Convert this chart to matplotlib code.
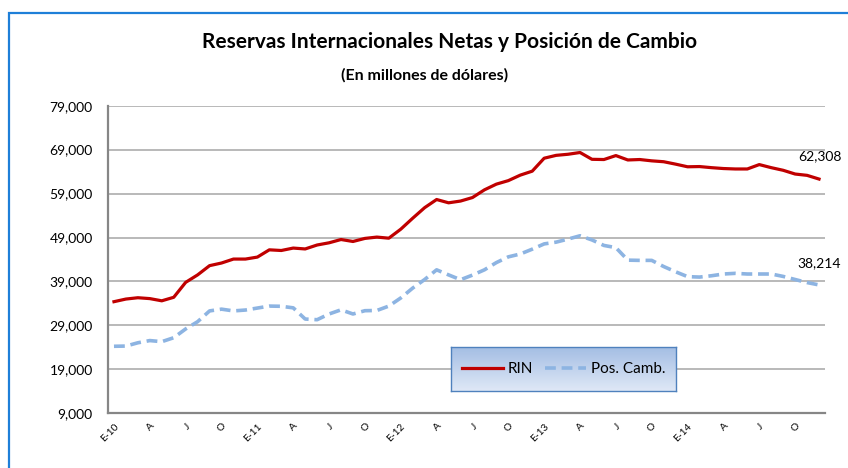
"""
Reservas Internacionales Netas y Posición de Cambio (monthly, E-10 .. D-14).
Outputs: out.png
"""

import numpy as np
import matplotlib

matplotlib.use("Agg")
import matplotlib.pyplot as plt
from matplotlib.ticker import FuncFormatter

plt.rcParams["font.family"] = ["Lato", "DejaVu Sans"]

# --- Data (millions of USD) ----------------------------------------------
rin = [34400, 35000, 35300, 35100, 34600, 35400, 38800, 40500, 42600, 43200,
       44100, 44100, 44550, 46200, 46050, 46600, 46400, 47300, 47800, 48550,
       48100, 48800, 49100, 48850, 50900, 53400, 55800, 57650, 56900, 57300,
       58100, 59850, 61150, 61950, 63200, 64100, 67050, 67700, 67950, 68350,
       66800, 66750, 67650, 66650, 66750, 66450, 66250, 65700, 65100, 65150,
       64900, 64700, 64600, 64600, 65600, 64900, 64300, 63450, 63150, 62308]
pos_camb = [24250, 24300, 25050, 25550, 25300, 26200, 28200, 29850, 32300, 32700,
            32300, 32500, 32950, 33400, 33350, 33000, 30450, 30300, 31600, 32550,
            31600, 32350, 32400, 33400, 35250, 37500, 39450, 41650, 40500, 39400,
            40450, 41650, 43300, 44600, 45250, 46350, 47550, 47950, 48650, 49400,
            48450, 47200, 46700, 43850, 43800, 43800, 42400, 41200, 40100, 40000,
            40300, 40700, 40850, 40700, 40700, 40700, 40150, 39450, 38750, 38214]
tick_labels = ["E-10", "A", "J", "O", "E-11", "A", "J", "O", "E-12", "A", "J", "O",
               "E-13", "A", "J", "O", "E-14", "A", "J", "O"]
y_ticks = list(range(9000, 79001, 10000))


def main() -> None:
    W, H = 848, 468
    fig = plt.figure(figsize=(W / 100, H / 100), dpi=100)

    # outer chart border (only top/left visible in the crop)
    border = plt.Rectangle((8.5 / W, -0.1), 1.1, 1 - 12.5 / H + 0.1,
                           transform=fig.transFigure, fill=False,
                           edgecolor="#1E7FD8", linewidth=1.6)
    fig.add_artist(border)

    ax = fig.add_axes([108 / W, 1 - 413.3 / H, (825 - 108) / W, (413.3 - 105.7) / H])
    x = np.arange(len(rin))

    ax.plot(x, rin, color="#C00000", linewidth=2.3, solid_joinstyle="round",
            zorder=3, label="RIN")
    ax.plot(x, pos_camb, color="#8DB4E2", linewidth=2.6, linestyle=(0, (3, 1.6)),
            zorder=3, label="Pos. Camb.")

    ax.set_xlim(-0.5, len(rin) - 0.5)
    ax.set_ylim(9000, 79000)
    ax.set_yticks(y_ticks)
    ax.yaxis.set_major_formatter(FuncFormatter(lambda v, _: f"{int(v):,}"))
    ax.grid(axis="y", color="#A6A6A6", linewidth=1.1)
    ax.set_axisbelow(True)

    ax.set_xticks(x[::3])
    ax.set_xticklabels(tick_labels, rotation=45, ha="right", va="top",
                       rotation_mode="anchor", fontsize=7.3)
    ax.tick_params(axis="x", length=0, pad=6)
    ax.tick_params(axis="y", length=0, pad=11, labelsize=10)

    for side in ("top", "right"):
        ax.spines[side].set_visible(False)
    for side in ("left", "bottom"):
        ax.spines[side].set_color("#868686")
        ax.spines[side].set_linewidth(1.6)

    # end-point labels
    ax.annotate(f"{rin[-1]:,}", (x[-1], rin[-1]), xytext=(1, 12),
                textcoords="offset points", ha="center", va="bottom", fontsize=10)
    ax.annotate(f"{pos_camb[-1]:,}", (x[-1], pos_camb[-1]), xytext=(0, 11),
                textcoords="offset points", ha="center", va="bottom", fontsize=10)

    # titles
    fig.text(450 / W, 1 - 42 / H, "Reservas Internacionales Netas y Posición de Cambio",
             ha="center", va="center", fontsize=15, fontweight="bold")
    fig.text(425 / W, 1 - 75 / H, "(En millones de dólares)",
             ha="center", va="center", fontsize=11.5, fontweight="bold")

    # legend box with vertical gradient fill
    lax = fig.add_axes([451 / W, 1 - 391 / H, 225 / W, 44 / H], zorder=5)
    grad = np.linspace(0, 1, 64).reshape(-1, 1)
    top_c = np.array([0xA4, 0xBE, 0xE4]) / 255
    bot_c = np.array([0xDF, 0xE8, 0xF6]) / 255
    img = top_c[None, None, :] * (1 - grad[..., None]) + bot_c[None, None, :] * grad[..., None]
    lax.imshow(img, aspect="auto", extent=(0, 1, 0, 1), origin="upper")
    lax.set_xticks([])
    lax.set_yticks([])
    for s in lax.spines.values():
        s.set_color("#4F81BD")
        s.set_linewidth(1.0)
    handles, labels = ax.get_legend_handles_labels()
    lax.legend(handles, labels, loc="center", ncol=2, frameon=False, fontsize=11,
               handlelength=2.7, handletextpad=0.3, columnspacing=0.8)

    fig.savefig("out.png", dpi=100)
    plt.close(fig)


if __name__ == "__main__":
    main()
